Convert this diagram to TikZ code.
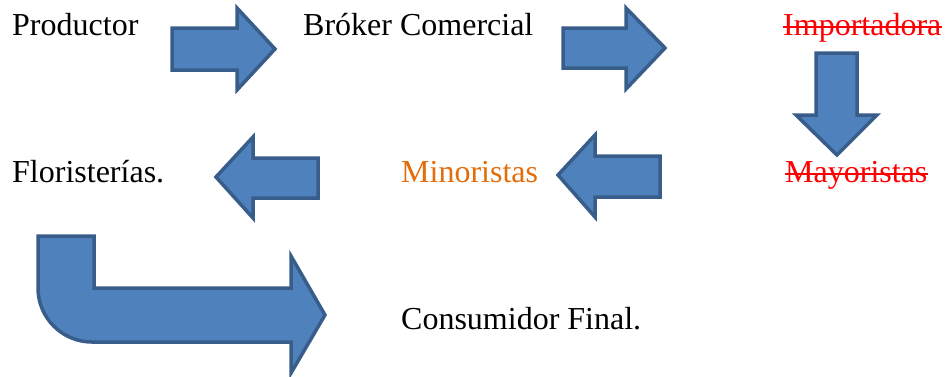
\documentclass[tikz,border=0pt]{standalone}
\usepackage{fontspec}
\setmainfont{Liberation Serif}
\newfontfamily\timesfont{Liberation Serif}
\definecolor{arrowfill}{HTML}{4F81BD}
\definecolor{arrowline}{HTML}{385D8A}
\definecolor{minorange}{HTML}{E46C0A}
\begin{document}
\begin{tikzpicture}[x=1pt,y=-1pt,
  blockarrow/.style={fill=arrowfill,draw=arrowline,line width=3.5pt,line join=miter},
  label/.style={anchor=base west,inner sep=0pt,font=\timesfont\fontsize{32}{38}\selectfont},
  struck/.style={label,text=red},
  strike/.style={red,line width=1.8pt}]
\useasboundingbox (0,0) rectangle (952,376);
% texts
\node[label] (prod) at (12,35) {Productor};
\node[label] (brok) at (303,35) {Bróker Comercial};
\node[struck] (imp) at (783,35) {Importadora};
\node[label] (flor) at (12,182) {Floristerías.};
\node[label,text=minorange] (mino) at (401,182) {Minoristas};
\node[struck] (may) at (785,182) {Mayoristas};
\node[label] (cons) at (401,329) {Consumidor Final.};
% strike-through lines
\draw[strike] ([yshift=8pt]imp.base west) -- ([yshift=8pt]imp.base east);
\draw[strike] ([yshift=8pt]may.base west) -- ([yshift=8pt]may.base east);
% right arrows
\draw[blockarrow] (172,28) -- (237,28) -- (237,8) -- (275,49) -- (237,90) -- (237,70) -- (172,70) -- cycle;
\draw[blockarrow] (563,28) -- (626,28) -- (626,8) -- (665,48) -- (626,89) -- (626,68) -- (563,68) -- cycle;
% down arrow
\draw[blockarrow] (816,53) -- (857,53) -- (857,115) -- (877,115) -- (837,155) -- (796,115) -- (816,115) -- cycle;
% left arrows
\draw[blockarrow] (318,158) -- (253,158) -- (253,137) -- (216,177) -- (253,218) -- (253,198) -- (318,198) -- cycle;
\draw[blockarrow] (660,156) -- (595,156) -- (595,135) -- (558,175) -- (595,217) -- (595,197) -- (660,197) -- cycle;
% bent arrow
\draw[blockarrow] (38,236) -- (94,236) -- (94,288) -- (291,288) -- (291,256) -- (325,315) -- (291,373) -- (291,342) -- (92,342)
  arc[start angle=90,end angle=180,radius=54] -- cycle;
\end{tikzpicture}
\end{document}
